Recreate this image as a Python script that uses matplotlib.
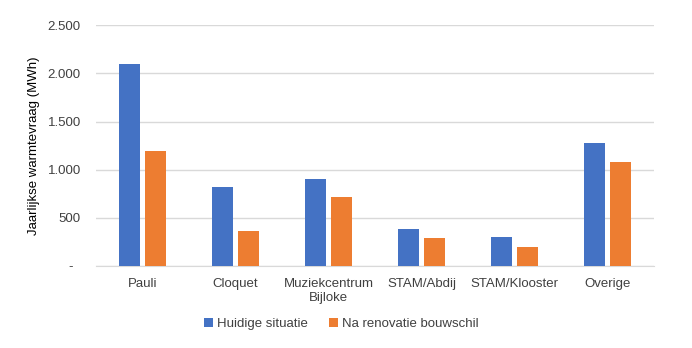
import matplotlib.pyplot as plt
import numpy as np
from matplotlib.ticker import FuncFormatter

plt.rcParams['font.family'] = ['Liberation Sans', 'DejaVu Sans']

gebouwen = ["Pauli", "Cloquet", "Muziekcentrum\nBijloke", "STAM/Abdij", "STAM/Klooster", "Overige"]
huidig = [2100, 815, 905, 388, 295, 1280]
na_renovatie = [1190, 367, 714, 288, 194, 1078]

def fmt(v, pos):
    if v == 0:
        return "-  "
    return f"{int(v):,}".replace(",", ".")

fig = plt.figure(figsize=(6.92, 3.48), dpi=100)
ax = fig.add_axes([0.139, 0.236, 0.806, 0.691])

x = np.arange(len(gebouwen))
w = 0.225
ax.bar(x - w / 2 - 0.03, huidig, w, color="#4472c4", label="Huidige situatie", zorder=3)
ax.bar(x + w / 2 + 0.03, na_renovatie, w, color="#ed7d31", label="Na renovatie bouwschil", zorder=3)

ax.set_xlim(-0.5, len(gebouwen) - 0.5)
ax.set_ylim(0, 2500)
ax.set_yticks(np.arange(0, 2501, 500))
ax.yaxis.set_major_formatter(FuncFormatter(fmt))
ax.set_xticks(x)
ax.set_xticklabels(gebouwen, fontsize=9.5, color="#404040")
ax.tick_params(axis="y", labelsize=9.5, colors="#404040", length=0, pad=11)
ax.tick_params(axis="x", length=0, pad=9)
ax.grid(axis="y", color="#d9d9d9", linewidth=1, zorder=0)
for s in ["top", "right", "left"]:
    ax.spines[s].set_visible(False)
ax.spines["bottom"].set_color("#d9d9d9")
ax.set_ylabel("Jaarlijkse warmtevraag (MWh)", fontsize=9.5, color="#000000")
ax.yaxis.set_label_coords(-0.10, 0.5)

fig.legend(loc="center", bbox_to_anchor=(0.493, 0.07), ncol=2, frameon=False,
           fontsize=9.5, handlelength=0.7, handleheight=0.7, handletextpad=0.3,
           columnspacing=1.6, labelcolor="#404040")

fig.savefig("out.png", dpi=100)
